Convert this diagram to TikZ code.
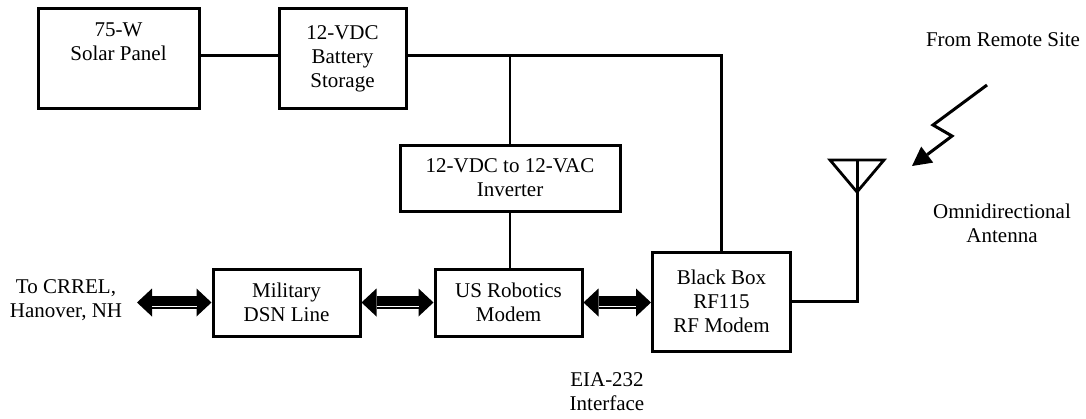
\documentclass[tikz,border=0pt]{standalone}
\usepackage{fontspec}
\setmainfont{Liberation Serif}
\usetikzlibrary{arrows.meta}

\begin{document}
\begin{tikzpicture}[x=1pt, y=-1pt,
        unit/.style={draw, line width=3pt, align=center, inner sep=0pt, font=\fontsize{21}{24}\selectfont},
        notetext/.style={align=center, inner sep=0pt, font=\fontsize{21}{24}\selectfont},
        wire/.style={line width=3pt},
        feed/.style={line width=1.8pt},
        datalink/.style={line width=13pt, {Triangle[length=15pt, width=28pt, line width=0pt]}-{Triangle[length=15pt, width=28pt, line width=0pt]}},
        bevel/.style={white, line width=1pt},
        bolt/.style={line width=3pt, -{Triangle[length=19pt, width=20pt, line width=0pt]}}
    ]
    \useasboundingbox (0,0) rectangle (1086,418);

    % power supply
    \node[unit, minimum width=161pt, minimum height=100pt,
        label={[notetext, anchor=north, yshift=-16pt]north:75-W\\Solar Panel}] (solar) at (118.5,58.5) {};
    \node[unit, minimum width=127pt, minimum height=100pt] (battery) at (342.5,58.5) {12-VDC\\Battery\\Storage};
    \node[unit, minimum width=220pt, minimum height=66pt] (inverter) at (510,178) {12-VDC to 12-VAC\\Inverter};

    % data path
    \node[unit, minimum width=147pt, minimum height=67pt] (military) at (286.5,302.5) {Military\\DSN Line};
    \node[unit, minimum width=147pt, minimum height=67pt] (usr) at (508.5,302.5) {US Robotics\\Modem};
    \node[unit, minimum width=138pt, minimum height=99pt] (blackbox) at (721.5,301.5) {Black Box\\RF115\\RF Modem};

    % texts
    \node[notetext] (crrel) at (66,300) {To CRREL,\\Hanover, NH};
    \node[notetext] (eia) at (607,392) {EIA-232\\Interface};
    \node[notetext] (remote) at (1003,40) {From Remote Site};
    \node[notetext] (omni) at (1002,223) {Omnidirectional\\Antenna};

    % power wiring
    \coordinate (busjoint) at ([yshift=3pt]battery.east);
    \draw[wire] ([yshift=3pt]solar.east) -- ([yshift=3pt]battery.west);
    \draw[wire] (busjoint) -| (blackbox.north);
    \draw[feed] (inverter.north) -- (inverter.north |- busjoint);
    \draw[feed] (inverter.south) -- (inverter.south |- usr.north);

    % double arrows
    \coordinate (dsnend) at (137,302.5);
    \draw[datalink] (dsnend) -- (military.west);
    \draw[datalink] (military.east) -- (usr.west);
    \draw[datalink] (usr.east) -- (usr.east -| blackbox.west);
    \draw[bevel] ([xshift=15pt, yshift=-4pt]dsnend) -- ([xshift=-15pt, yshift=-4pt]military.west);
    \draw[bevel] ([xshift=15pt, yshift=-4pt]military.east) -- ([xshift=-15pt, yshift=-4pt]usr.west);
    \draw[bevel] ([xshift=15pt, yshift=-4pt]usr.east) -- ([xshift=-15pt, yshift=-4pt]usr.east -| blackbox.west);

    % antenna
    \coordinate (anttip) at (857,192);
    \coordinate (antleft) at (830,160);
    \coordinate (antright) at (884,160);
    \draw[wire] (blackbox.east) -| (anttip);
    \draw[line width=2.8pt, line join=miter] (antleft) -- (antright) -- (anttip) -- cycle;
    \draw[wire] (anttip |- antleft) -- (anttip);

    % radio link
    \coordinate (boltstart) at (987,85);
    \coordinate (boltkinka) at (933,125);
    \coordinate (boltkinkb) at (952,136);
    \coordinate (boltend) at (912,166);
    \draw[bolt] (boltstart) -- (boltkinka) -- (boltkinkb) -- (boltend);

\end{tikzpicture}
\end{document}
